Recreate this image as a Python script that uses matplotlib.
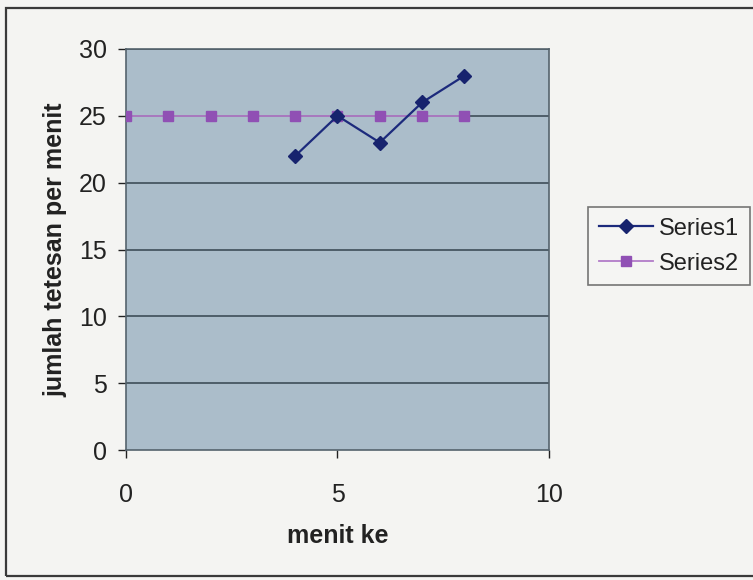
import matplotlib
matplotlib.use("Agg")
import matplotlib.pyplot as plt
from matplotlib.patches import Rectangle

plt.rcParams['font.family'] = ['Liberation Sans', 'DejaVu Sans']

# data
menit_s1 = [4, 5, 6, 7, 8]
tetesan_s1 = [22, 25, 23, 26, 28]
menit_s2 = [0, 1, 2, 3, 4, 5, 6, 7, 8]
tetesan_s2 = [25, 25, 25, 25, 25, 25, 25, 25, 25]
series_names = ["Series1", "Series2"]
x_ticks = [0, 5, 10]
y_ticks = [0, 5, 10, 15, 20, 25, 30]

fig = plt.figure(figsize=(7.53, 5.80), dpi=100)
fig.patch.set_facecolor('#f4f4f2')

# chart frame
fig.patches.append(Rectangle((6 / 753, 4 / 580), 1.05, 568 / 580,
                             transform=fig.transFigure, fill=False,
                             edgecolor='#3a3a3a', linewidth=1.6, zorder=0))

ax = fig.add_axes([126 / 753, 130 / 580, 423 / 753, 401 / 580])
ax.set_facecolor('#abbdca')

for y in y_ticks[1:]:
    ax.axhline(y, color='#4e5e69', linewidth=1.4, zorder=1)

ax.plot(menit_s2, tetesan_s2, color='#b27cc8', linewidth=1.3,
        marker='s', markersize=7, markerfacecolor='#9050b4',
        markeredgecolor='#9050b4', label=series_names[1], zorder=3)
ax.plot(menit_s1, tetesan_s1, color='#1c2a7c', linewidth=1.6,
        marker='D', markersize=7, markerfacecolor='#17236e',
        markeredgecolor='#17236e', label=series_names[0], zorder=4)

ax.set_xlim(0, 10)
ax.set_ylim(0, 30)
ax.set_xticks(x_ticks)
ax.set_yticks(y_ticks)
ax.tick_params(axis='both', labelsize=18, colors='#222222', length=6,
               width=1, direction='out', pad=8)
ax.tick_params(axis='x', pad=18)

for s in ax.spines.values():
    s.set_color('#55636d')
    s.set_linewidth(1.2)

ax.set_xlabel("menit ke", fontsize=18, fontweight='bold', color='#222222',
              labelpad=12)
ax.set_ylabel("jumlah tetesan per menit", fontsize=18, fontweight='bold',
              color='#222222', labelpad=8)

handles, labels = ax.get_legend_handles_labels()
leg = fig.legend(handles[::-1], labels[::-1], loc='upper left',
                 bbox_to_anchor=(588 / 753, 1 - 207 / 580),
                 bbox_transform=fig.transFigure, fontsize=17,
                 frameon=True, fancybox=False, handlelength=2.3,
                 handletextpad=0.25, borderpad=0.45, labelspacing=0.55,
                 borderaxespad=0)
leg.get_frame().set_edgecolor('#555555')
leg.get_frame().set_facecolor('#f6f6f4')
leg.get_frame().set_linewidth(1.2)
for t in leg.get_texts():
    t.set_color('#222222')

fig.savefig("out.png", dpi=100, facecolor=fig.get_facecolor())
